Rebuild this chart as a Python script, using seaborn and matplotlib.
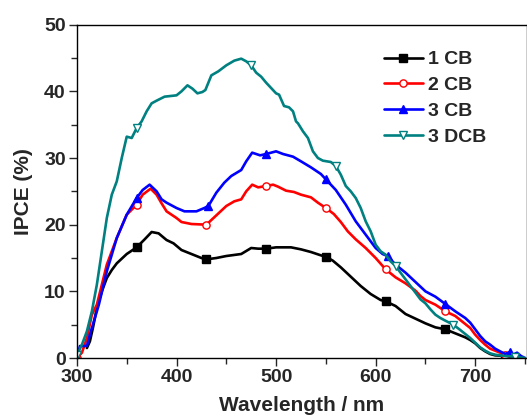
import numpy as np
import pandas as pd
import matplotlib
matplotlib.use("Agg")
import matplotlib.pyplot as plt
import seaborn as sns
from matplotlib.ticker import MultipleLocator

# ---------- data ----------

wl_1cb = [310, 313, 316, 320, 325, 330, 335, 340, 350, 360, 368, 375, 382, 390, 397,
          405, 415, 425, 430, 440, 450, 465, 475, 482, 490, 500, 515, 525, 535, 545,
          550, 557, 565, 575, 585, 595, 605, 610, 620, 630, 640, 650, 660, 670, 680,
          690, 695, 700, 705, 710, 715, 720, 730, 740]
ipce_1cb = [1.5, 2.5, 4.5, 7.5, 10.0, 12.0, 13.2, 14.2, 15.6, 16.6, 17.8, 18.9, 18.7, 17.7, 17.2,
            16.2, 15.6, 15.0, 14.8, 15.0, 15.3, 15.6, 16.5, 16.4, 16.4, 16.6, 16.6, 16.3, 15.9, 15.4,
            15.2, 14.6, 13.6, 12.2, 10.8, 9.6, 8.7, 8.5, 7.8, 6.6, 5.9, 5.2, 4.6, 4.3, 3.7,
            3.1, 2.7, 2.2, 1.5, 1.0, 0.6, 0.4, 0.3, 0.2]
mk_1cb = [360, 430, 490, 550, 610, 670, 730]

wl_2cb = [300, 305, 310, 315, 320, 325, 330, 340, 350, 360, 366, 374, 380, 385, 390,
          400, 405, 415, 430, 440, 450, 458, 465, 470, 476, 482, 490, 497, 502, 510,
          518, 525, 535, 542, 550, 558, 565, 572, 580, 590, 600, 610, 620, 630, 640,
          645, 650, 660, 670, 680, 690, 695, 700, 705, 710, 715, 720, 725, 730, 735,
          740, 745]
ipce_2cb = [0.0, 0.8, 3.0, 6.5, 8.0, 11.0, 14.0, 18.0, 21.5, 23.0, 24.5, 25.4, 24.5, 23.2, 22.0,
            21.0, 20.4, 20.1, 20.0, 21.4, 22.8, 23.5, 23.8, 25.0, 26.0, 25.6, 25.8, 26.0, 25.7, 25.1,
            24.9, 24.5, 24.1, 23.3, 22.5, 21.6, 20.4, 19.0, 17.8, 16.5, 15.0, 13.3, 12.1, 11.2, 10.1,
            9.3, 8.7, 8.0, 7.0, 6.3, 5.1, 4.5, 3.5, 2.7, 2.0, 1.4, 1.1, 0.8, 0.5, 0.7,
            0.3, 0.0]
mk_2cb = [300, 360, 430, 490, 550, 610, 670, 730]

wl_3cb = [300, 303, 310, 313, 318, 322, 330, 340, 350, 360, 366, 373, 380, 385, 390,
          400, 408, 420, 428, 432, 440, 448, 455, 465, 470, 476, 484, 490, 500, 507,
          517, 525, 535, 545, 550, 560, 570, 580, 590, 600, 607, 612, 620, 630, 640,
          650, 660, 670, 680, 690, 695, 700, 705, 710, 715, 720, 725, 730, 735, 738,
          742, 746, 750]
ipce_3cb = [0.0, 1.8, 1.8, 3.5, 6.0, 8.0, 13.0, 18.0, 21.5, 24.0, 25.2, 26.0, 25.0, 23.8, 23.3,
            22.5, 22.0, 22.0, 22.5, 22.8, 24.8, 26.3, 27.3, 28.2, 29.5, 30.8, 30.4, 30.6, 31.0, 30.6,
            30.2, 29.5, 28.6, 27.6, 26.8, 25.2, 23.0, 20.5, 18.5, 16.5, 15.6, 15.3, 14.0, 12.8, 11.4,
            10.0, 9.2, 8.1, 7.0, 6.0, 5.3, 4.3, 3.3, 2.5, 2.0, 1.4, 1.0, 0.6, 0.9, 0.5,
            0.8, 0.3, 0.0]
mk_3cb = [300, 360, 432, 490, 550, 612, 670, 735]

wl_3dcb = [300, 305, 310, 315, 320, 325, 330, 335, 340, 345, 350, 355, 360, 365, 370,
           375, 380, 388, 400, 405, 411, 416, 421, 426, 429, 435, 442, 450, 458, 465,
           470, 475, 480, 485, 490, 495, 500, 503, 508, 513, 517, 520, 522, 527, 532,
           537, 542, 547, 555, 560, 565, 570, 575, 580, 585, 590, 595, 600, 605, 610,
           615, 620, 625, 630, 635, 640, 645, 650, 655, 660, 665, 670, 678, 685, 690,
           695, 700, 705, 710, 715, 720, 730, 740, 750]
ipce_3dcb = [0.5, 2.0, 4.0, 7.0, 11.0, 16.0, 21.0, 24.5, 26.5, 30.0, 33.2, 33.0, 34.5, 35.5, 37.0,
             38.2, 38.6, 39.2, 39.4, 40.0, 40.9, 40.4, 39.7, 39.9, 40.2, 42.4, 43.0, 43.9, 44.6, 44.9,
             44.5, 43.9, 42.8, 42.2, 41.3, 40.5, 39.7, 39.5, 37.8, 37.6, 37.0, 35.5, 35.2, 34.0, 33.0,
             31.0, 30.0, 29.6, 29.4, 28.8, 27.5, 25.8, 25.0, 24.0, 22.5, 20.5, 19.0, 17.0, 16.0, 15.5,
             14.5, 13.8, 12.8, 11.8, 10.8, 9.8, 8.8, 8.2, 7.3, 6.5, 6.0, 5.6, 5.0, 4.2, 3.6,
             3.0, 2.3, 1.6, 1.1, 0.7, 0.5, 0.3, 0.2, 0.0]
mk_3dcb = [300, 360, 475, 560, 620, 678, 740]

# ---------- figure ----------

sns.set_style("ticks")
plt.rcParams["font.family"] = ["Liberation Sans", "DejaVu Sans"]
plt.rcParams["font.weight"] = "bold"

fig = plt.figure(figsize=(5.27, 4.18), dpi=100)
ax = fig.add_axes([0.146, 0.1435, 0.854, 0.7975])

series = [
    ("1 CB", wl_1cb, ipce_1cb, mk_1cb, "black", "s", "black"),
    ("2 CB", wl_2cb, ipce_2cb, mk_2cb, "#ff0000", "o", "white"),
    ("3 CB", wl_3cb, ipce_3cb, mk_3cb, "#0000ff", "^", "#0000ff"),
    ("3 DCB", wl_3dcb, ipce_3dcb, mk_3dcb, "#008080", "v", "white"),
]

for name, wl, val, mk, col, marker, face in series:
    df = pd.DataFrame({"wl": wl, "ipce": val})
    idx = [wl.index(m) for m in mk]
    sns.lineplot(data=df, x="wl", y="ipce", ax=ax, color=col, lw=1.9,
                 marker=marker, markersize=5.2, markerfacecolor=face,
                 markeredgecolor=col, markeredgewidth=1.0, markevery=idx,
                 label=name)

ax.set_xlim(300, 752)
ax.set_ylim(0, 50)
ax.xaxis.set_major_locator(MultipleLocator(100))
ax.xaxis.set_minor_locator(MultipleLocator(50))
ax.yaxis.set_major_locator(MultipleLocator(10))
ax.yaxis.set_minor_locator(MultipleLocator(5))
ax.tick_params(which="major", direction="out", length=6, width=1, labelsize=14, pad=2)
ax.tick_params(which="minor", direction="out", length=4, width=1)
for lab in ax.get_xticklabels() + ax.get_yticklabels():
    lab.set_fontweight("bold")

for side in ["left", "bottom", "top", "right"]:
    ax.spines[side].set_linewidth(1.0)
    ax.spines[side].set_color("black")

ax.set_xlabel("Wavelength / nm", fontsize=15, fontweight="bold", labelpad=7)
ax.set_ylabel("IPCE (%)", fontsize=15, fontweight="bold", labelpad=8)

ax.legend(loc="upper left", bbox_to_anchor=(0.665, 0.945), frameon=False,
          prop={"size": 14, "weight": "bold"}, handlelength=2.0,
          handletextpad=0.25, labelspacing=0.42, borderaxespad=0)

fig.savefig("out.png", dpi=100)
